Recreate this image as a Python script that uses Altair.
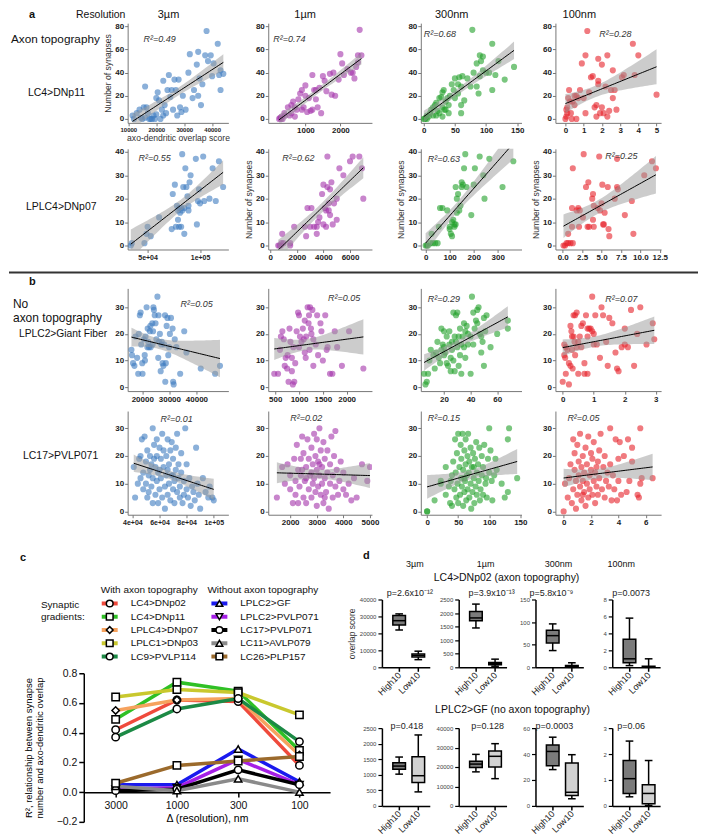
import altair as alt
import numpy as np
import pandas as pd

FONT = "Liberation Sans"
BLUE = "#3d7cbf"
PURPLE = "#a433aa"
GREEN = "#21a02a"
RED = "#e6222a"

# ---------------- panel a / b : (axo-dendritic overlap score, number of synapses)
A1_3UM = [(11500,3),(12000,0),(13000,5),(14000,8),(14500,1),(15000,0),(15500,10),(16000,28),(16500,10),(17000,5),
          (17500,0),(18000,0),(18500,0),(19000,3),(19500,0),(20000,18),(20500,23),(21000,16),(21500,0),(22000,8),
          (22500,3),(23000,12),(23500,5),(24000,25),(24500,38),(25000,19),(25500,25),(26000,8),(26500,34),(27000,25),
          (27500,3),(28000,34),(28500,10),(29000,6),(29500,20),(30500,8),(31500,40),(32000,56),(33000,18),(33500,25),
          (34500,47),(35000,20),(35500,35),(36000,12),(36500,30),(37500,55),(38000,76),(38500,50),(39500,55),(40000,37),
          (40500,48),(42000,65),(42500,38),(43000,42),(43000,25),(44000,39),(35000,58),(22500,33),(20000,4),(16000,1)]
A1_1UM = [(250,0),(280,1),(300,0),(320,2),(350,0),(400,5),(420,3),(500,10),(550,3),(600,5),(650,15),(700,2),
          (750,8),(800,17),(850,22),(900,8),(950,10),(1000,29),(1000,20),(1050,6),(1100,18),(1150,7),(1200,8),
          (1250,25),(1300,25),(1350,10),(1400,27),(1450,5),(1500,37),(1550,33),(1600,24),(1700,39),(1750,21),
          (1800,40),(1850,20),(1950,34),(2000,56),(2050,48),(2100,38),(2200,43),(2300,40),(2400,35),(2450,45),
          (2500,55),(2550,77),(2600,55),(2500,49),(2350,40),(1200,38),(900,25),(700,10),(600,12),(1300,17)]
A1_300NM = [(0,0),(2,0),(3,1),(5,0),(5,3),(8,2),(10,5),(12,8),(15,10),(15,3),(20,3),(20,14),(22,7),(25,18),(25,5),
            (28,19),(30,23),(30,10),(32,25),(33,8),(35,15),(35,8),(38,18),(40,12),(42,20),(45,30),(48,25),(50,35),
            (50,18),(55,22),(55,30),(57,36),(60,28),(60,12),(62,37),(65,16),(70,35),(75,28),(78,77),(80,40),(85,28),
            (85,48),(88,22),(90,37),(90,55),(92,50),(95,54),(95,42),(100,40),(105,40),(110,65),(110,25),(115,38),
            (120,50),(130,34),(145,45),(60,5),(40,5),(30,2),(18,12)]
A1_100NM = [(0,0),(0.05,2),(0.1,5),(0.05,8),(0.1,10),(0.15,18),(0.2,25),(0.25,15),(0.3,5),(0.35,0),(0.4,15),(0.5,20),
            (0.6,0),(0.7,18),(0.8,25),(0.9,48),(1.0,18),(1.1,55),(1.2,76),(1.1,5),(1.3,23),(1.4,36),(1.5,37),(1.6,10),
            (1.7,2),(1.7,12),(1.8,33),(1.8,30),(1.8,52),(1.9,5),(2.0,47),(2.0,10),(2.1,5),(2.2,28),(2.3,55),(2.3,2),
            (2.4,7),(2.5,25),(2.6,42),(2.6,18),(2.7,25),(2.8,8),(3.1,36),(3.2,38),(3.7,65),(3.8,38),(4.0,55),(5.0,21),
            (0.6,20),(0.5,12)]

A2_3UM = [(34000,0),(35000,1),(47000,1),(49000,5),(50000,8),(53000,4),(61000,12),(73000,7),(74000,22),(76000,26),
          (77000,8),(79000,11),(79000,15),(80000,16),(81000,14),(82000,16),(83000,15),(80000,8),(82000,8),(83000,39),
          (84000,25),(85000,5),(86000,33),(87000,25),(88000,21),(89000,15),(89000,17),(90000,27),(91000,30),(96000,37),
          (97000,9),(98000,19),(99000,24),(100000,18),(103000,38),(104000,19),(109000,20),(112000,33),(115000,19),
          (118000,36),(122000,25),(85000,16),(78000,17)]
A2_1UM = [(600,0),(700,0),(800,0),(850,1),(900,5),(1000,1),(1500,1),(1800,8),(1500,0),(2600,8),(2700,4),(2800,16),
          (3100,16),(3300,8),(3500,8),(3500,5),(3600,10),(3700,12),(3900,22),(4000,26),(4000,9),(4100,16),(4200,15),
          (4300,25),(4300,38),(4400,15),(4400,18),(4500,24),(4500,13),(4600,27),(4700,9),(4800,18),(5000,20),
          (5200,33),(5500,30),(6000,36),(6200,38),(6700,38),(6900,33),(7000,20),(3000,8),(4200,8),(5000,11)]
A2_300NM = [(0,0),(5,0),(10,0),(20,1),(25,5),(30,1),(40,1),(50,1),(55,8),(60,16),(70,16),(90,15),(100,7),(100,8),
            (105,5),(110,4),(115,11),(120,8),(120,9),(125,9),(125,25),(130,14),(135,22),(140,15),(145,17),(150,27),
            (150,25),(155,26),(160,33),(165,39),(170,25),(190,13),(200,26),(205,33),(225,38),(240,30),(245,20),
            (265,37),(320,25),(365,36),(130,20),(110,10)]
A2_100NM = [(0.1,0),(0.3,0),(0.5,1),(0.7,1),(1.0,1),(1.3,1),(0.7,5),(1.2,8),(1.2,16),(1.3,33),(1.8,15),(2.0,16),
            (2.1,8),(2.2,15),(2.6,12),(2.7,39),(3.0,25),(3.2,8),(3.3,27),(3.4,8),(3.8,20),(3.9,11),(3.9,22),(4.0,17),
            (4.0,8),(4.5,16),(4.7,38),(4.8,15),(5.0,18),(5.1,26),(5.2,9),(5.3,9),(5.4,14),(5.8,25),(5.9,7),(6.0,4),
            (6.7,20),(7.0,25),(7.1,24),(7.0,37),(8.0,13),(8.9,19),(9.1,5),(10.5,30),(11.5,36),(12.0,33)]

B1_3UM = [(16200,12),(16600,9),(17100,8),(17500,19),(18100,11),(18700,20),(19100,27),(19400,28),(19600,16),
          (20000,9),(20100,5),(20600,18),(20900,12),(21200,19),(21600,30),(21900,15),(22200,17),(22500,15),
          (22800,21),(23100,15),(23700,24),(23800,16),(24100,30),(24300,29),(24600,27),(24900,24),(25200,18),
          (25600,34),(25900,11),(26200,17),(26500,20),(26800,6),(27000,16),(27200,17),(27500,9),(27800,8),
          (28100,16),(28400,27),(28500,2),(28700,9),(29000,23),(29300,26),(29600,12),(29900,15),(30200,20),
          (30600,26),(31200,22),(31400,2),(31600,1),(32000,18),(32600,15),(34000,5),(35500,21),(36300,13),
          (41600,7),(46900,5),(48700,8),(22000,22),(24000,21),(26000,27),(21000,10),(18500,5),(16000,14),(23000,23)]
B1_1UM = [(480,5),(560,5),(600,14),(620,19),(650,21),(680,18),(700,8),(720,11),(750,7),(760,12),(780,2),(800,22),
          (820,17),(850,6),(870,1),(880,15),(900,2),(920,9),(950,21),(980,28),(1000,15),(1020,19),(1050,17),
          (1080,22),(1100,18),(1120,25),(1140,11),(1150,19),(1180,30),(1200,24),(1210,27),(1220,14),(1230,30),
          (1250,22),(1260,20),(1280,29),(1300,18),(1300,8),(1350,16),(1380,27),(1400,12),(1450,24),(1470,21),
          (1500,10),(1550,27),(1580,14),(1600,15),(1650,5),(1700,5),(1750,21),(1800,15),(1900,8),(2350,7),
          (2050,21),(1120,13),(1000,27),(850,11)]
B1_300NM = [(5,5),(6,1),(7,2),(8,5),(9,10),(10,14),(12,12),(13,7),(14,13),(15,17),(16,11),(17,9),(18,22),(18,14),
            (19,16),(20,21),(20,12),(21,13),(22,19),(22,9),(23,8),(24,16),(24,21),(25,11),(25,6),(26,14),(27,28),
            (27,10),(28,19),(28,6),(29,27),(29,17),(30,28),(30,15),(31,8),(31,19),(32,12),(32,22),(33,16),(33,5),
            (34,19),(35,24),(35,15),(36,21),(36,11),(37,23),(38,20),(38,16),(40,5),(40,19),(41,34),(42,28),(42,16),
            (43,22),(44,25),(45,24),(45,29),(46,30),(47,20),(48,19),(48,13),(49,17),(50,26),(50,8),(51,21),(52,27),
            (55,15),(60,20),(68,25),(68,22),(26,17),(20,15)]
B1_100NM = [(0.0,2),(0.05,16),(0.05,12),(0.08,11),(0.1,5),(0.1,15),(0.15,14),(0.2,9),(0.2,1),(0.25,23),(0.25,8),
            (0.28,21),(0.3,19),(0.3,14),(0.32,7),(0.35,27),(0.35,19),(0.38,17),(0.4,12),(0.4,27),(0.45,28),(0.45,15),
            (0.5,5),(0.55,19),(0.6,15),(0.6,23),(0.65,24),(0.7,5),(0.75,27),(0.8,22),(0.8,19),(0.8,5),(0.85,22),
            (0.9,22),(0.95,34),(0.95,21),(1.0,20),(1.0,16),(1.05,27),(1.1,16),(1.2,11),(1.25,30),(1.3,27),(1.4,17),
            (1.45,8),(1.5,26),(1.6,24),(1.7,13),(1.75,7),(1.8,6),(1.9,15),(2.0,22),(2.0,16),(2.1,15),(2.2,29),
            (2.3,8),(2.4,20),(2.5,30),(2.7,16),(2.9,24),(2.95,18),(0.7,9),(0.5,17)]

B2_3UM = [(41000,16),(42000,5),(44000,10),(45000,19),(46000,20),(46000,12),(47000,26),(48000,8),(48000,14),
          (49000,27),(50000,10),(50000,18),(51000,22),(51000,5),(52000,13),(52000,7),(53000,20),(53000,15),
          (54000,17),(54000,9),(55000,3),(55000,30),(55000,12),(56000,19),(56000,24),(57000,6),(57000,16),
          (58000,26),(58000,11),(59000,14),(59000,3),(60000,23),(60000,8),(61000,19),(61000,12),(62000,28),
          (62000,5),(63000,16),(63000,22),(64000,9),(64000,1),(65000,20),(65000,13),(66000,26),(66000,6),
          (67000,10),(67000,17),(68000,22),(68000,4),(69000,13),(69000,25),(70000,8),(70000,19),(71000,11),
          (71000,3),(72000,15),(72000,23),(73000,7),(73000,28),(74000,12),(74000,17),(75000,5),(75000,9),
          (76000,21),(76000,14),(77000,3),(78000,11),(78000,6),(79000,30),(80000,8),(80000,17),(81000,5),
          (82000,12),(83000,2),(84000,9),(85000,7),(86000,4),(87000,23),(88000,10),(89000,6),(90000,1),(92000,12),
          (94000,7),(96000,5),(99000,5),(100000,4),(97000,9),(60000,15),(58000,20),(66000,15),(70000,13)]
B2_1UM = [(1500,5),(1700,16),(1800,10),(1900,17),(2000,13),(2000,8),(2100,3),(2150,19),(2200,11),(2200,6),(2250,24),
          (2300,15),(2300,3),(2350,9),(2400,19),(2400,13),(2450,27),(2500,5),(2500,21),(2550,11),(2600,16),(2600,3),
          (2650,26),(2700,8),(2700,19),(2750,13),(2800,23),(2800,5),(2850,17),(2850,10),(2900,28),(2900,12),
          (2950,7),(2950,20),(3000,15),(3000,2),(3000,26),(3050,9),(3050,18),(3100,13),(3100,30),(3150,6),(3150,22),
          (3200,16),(3200,10),(3250,3),(3250,25),(3300,12),(3300,19),(3350,7),(3400,14),(3400,22),(3450,1),
          (3500,17),(3500,10),(3550,27),(3600,5),(3600,13),(3650,20),(3700,9),(3700,29),(3750,15),(3800,6),
          (3850,11),(3900,18),(4000,8),(4000,14),(4100,6),(4200,10),(4300,4),(4400,12),(4500,5),(4700,17),
          (4900,11),(5000,16),(2600,12),(2800,14),(3100,17),(3300,5),(2450,15)]
B2_300NM = [(0,0),(0,0),(12,4),(22,10),(22,11),(30,16),(30,6),(35,9),(37,3),(38,11),(40,13),(40,2),(42,18),(44,8),
            (45,26),(46,14),(47,5),(48,21),(49,10),(50,28),(50,3),(52,16),(53,6),(54,24),(55,12),(55,19),(56,9),
            (57,28),(58,2),(58,15),(60,22),(60,7),(61,11),(62,26),(62,17),(63,4),(64,13),(65,20),(65,8),(66,28),
            (67,14),(68,5),(68,18),(70,23),(70,10),(71,1),(72,16),(73,7),(74,21),(75,12),(76,3),(77,19),(78,9),
            (79,25),(80,14),(80,6),(82,17),(83,11),(84,23),(85,4),(86,8),(88,13),(88,20),(90,16),(90,6),(92,24),
            (94,10),(95,12),(96,5),(98,19),(100,30),(100,14),(102,22),(104,11),(105,4),(108,13),(110,19),(112,15),
            (120,10),(125,5),(130,26),(130,7),(132,30),(145,12),(75,16),(60,12)]
B2_100NM = [(0,0),(0.1,10),(0.3,5),(0.4,12),(0.5,17),(0.6,3),(0.7,26),(0.7,8),(0.8,21),(0.8,15),(0.9,1),(0.9,11),
            (1.0,24),(1.0,6),(1.1,18),(1.1,13),(1.2,9),(1.2,28),(1.3,4),(1.3,16),(1.4,11),(1.4,20),(1.5,7),(1.5,14),
            (1.6,23),(1.6,2),(1.7,10),(1.7,17),(1.8,5),(1.8,27),(1.9,13),(1.9,8),(2.0,21),(2.0,15),(2.1,6),(2.1,19),
            (2.2,11),(2.2,25),(2.3,3),(2.3,14),(2.4,9),(2.5,18),(2.5,6),(2.6,22),(2.6,12),(2.7,28),(2.8,8),(2.9,16),
            (3.0,5),(3.0,20),(3.1,11),(3.2,14),(3.3,9),(3.4,30),(3.4,17),(3.5,4),(3.6,13),(3.7,8),(3.8,26),(3.9,4),
            (4.0,19),(4.0,11),(4.1,25),(4.2,6),(4.4,20),(4.6,7),(4.7,26),(4.8,11),(5.0,23),(5.0,18),(5.4,6),(5.5,5),
            (5.6,30),(5.6,10),(5.7,12),(6.5,12),(1.4,6),(2.4,16)]

R2_A1 = ["R²=0.49", "R²=0.74", "R²=0.68", "R²=0.28"]
R2_A2 = ["R²=0.55", "R²=0.62", "R²=0.63", "R²=0.25"]
R2_B1 = ["R²=0.05", "R²=0.05", "R²=0.29", "R²=0.07"]
R2_B2 = ["R²=0.01", "R²=0.02", "R²=0.15", "R²=0.05"]
RESOLUTIONS = ["3µm", "1µm", "300nm", "100nm"]
SCI_A2_VALUES = [50000, 100000]
SCI_A2_LABELS = ["5e+04", "1e+05"]
SCI_B2_VALUES = [40000, 60000, 80000, 100000]
SCI_B2_LABELS = ["4e+04", "6e+04", "8e+04", "1e+05"]

# ---------------- panel c
C_NAMES = ["LC4>DNp02", "LC4>DNp11", "LPLC4>DNp07", "LPLC1>DNp03", "LC9>PVLP114",
           "LPLC2>GF", "LPLC2>PVLP071", "LC17>PVLP071", "LC11>AVLP079", "LC26>PLP157"]
C_COLORS = ["#ef4a3c", "#2fc025", "#f6a25e", "#c9c82e", "#1c8a45",
            "#1a1aee", "#a51fe6", "#000000", "#8a8a8a", "#9b6a2c"]
C_SHAPES = ["circle", "square", "diamond", "square", "circle",
            "triangle-up", "triangle-down", "circle", "triangle-up", "square"]
C_RESOLUTION = ["3000", "1000", "300", "100"]
R2_LC4_DNP02 = [0.42, 0.62, 0.61, 0.18]
R2_LC4_DNP11 = [0.49, 0.74, 0.68, 0.28]
R2_LPLC4_DNP07 = [0.55, 0.62, 0.63, 0.25]
R2_LPLC1_DNP03 = [0.64, 0.69, 0.67, 0.52]
R2_LC9_PVLP114 = [0.37, 0.56, 0.63, 0.34]
R2_LPLC2_GF = [0.05, 0.05, 0.29, 0.07]
R2_LPLC2_PVLP071 = [0.02, 0.03, 0.22, 0.05]
R2_LC17_PVLP071 = [0.01, 0.02, 0.15, 0.05]
R2_LC11_AVLP079 = [0.04, 0.01, 0.09, 0.0]
R2_LC26_PLP157 = [0.06, 0.18, 0.21, 0.24]
C_VALUES = [R2_LC4_DNP02, R2_LC4_DNP11, R2_LPLC4_DNP07, R2_LPLC1_DNP03, R2_LC9_PVLP114,
            R2_LPLC2_GF, R2_LPLC2_PVLP071, R2_LC17_PVLP071, R2_LC11_AVLP079, R2_LC26_PLP157]

# ---------------- panel d : [min, q1, median, q3, max]
D1_3UM_HIGH = [22000, 25000, 27500, 30500, 31500]
D1_3UM_LOW = [4500, 6000, 7000, 7800, 9500]
D1_1UM_HIGH = [1450, 1720, 1820, 2060, 2330]
D1_1UM_LOW = [40, 90, 130, 180, 300]
D1_300NM_HIGH = [37, 54, 70, 82, 96]
D1_300NM_LOW = [0, 0, 2, 4, 10]
D1_100NM_HIGH = [0.2, 0.55, 1.0, 3.3, 5.8]
D1_100NM_LOW = [0, 0, 0.05, 0.12, 1.0]
D2_3UM_HIGH = [1020, 1180, 1280, 1390, 1570]
D2_3UM_LOW = [450, 750, 970, 1580, 2280]
D2_1UM_HIGH = [17500, 19800, 21500, 23000, 26500]
D2_1UM_LOW = [14000, 20000, 25500, 28200, 32000]
D2_300NM_HIGH = [28, 31, 42, 47, 53]
D2_300NM_LOW = [5.5, 8, 10.5, 33, 39.5]
D2_100NM_HIGH = [0.35, 0.48, 1.05, 1.75, 2.5]
D2_100NM_LOW = [0.02, 0.08, 0.48, 0.82, 1.75]
P_ROW1 = ["p=2.6x10⁻¹²", "p=3.9x10⁻¹³", "p=5.8x10⁻⁹", "p=0.0073"]
P_ROW2 = ["p=0.418", "p=0.128", "p=0.0003", "p=0.06"]
GROUPS = ["High10", "Low10"]


# ======================================================== helpers
def spacer(w, h):
    return alt.Chart(pd.DataFrame({"t": [""]})).mark_text(baseline="top", fontSize=1).encode(
        x=alt.value(0), y=alt.value(0), text="t:N").properties(width=w, height=h)


def label(t, x, y, size=10.5, weight="normal", align="left", baseline="middle",
          style="normal", color="#111111"):
    return alt.Chart(pd.DataFrame({"t": [t]})).mark_text(
        align=align, baseline=baseline, fontSize=size, fontWeight=weight,
        fontStyle=style, color=color).encode(x=alt.value(x), y=alt.value(y), text="t:N")


def text_panel(w, h, labels):
    return alt.layer(*labels).properties(width=w, height=h)


def sci_expr(vals, labs):
    expr = "''"
    for v, l in reversed(list(zip(vals, labs))):
        expr = f"datum.value == {v} ? '{l}' : ({expr})"
    return expr


def reg_band(pts):
    x = np.array([p[0] for p in pts], dtype=float)
    y = np.array([p[1] for p in pts], dtype=float)
    n = len(x)
    slope, icept = np.polyfit(x, y, 1)
    resid = y - (icept + slope * x)
    s = np.sqrt((resid ** 2).sum() / (n - 2))
    sxx = ((x - x.mean()) ** 2).sum()
    xs = np.linspace(x.min(), x.max(), 40)
    fit = icept + slope * xs
    se = s * np.sqrt(1.0 / n + (xs - x.mean()) ** 2 / sxx)
    return pd.DataFrame({"x": xs, "fit": fit, "lo": fit - 1.99 * se, "hi": fit + 1.99 * se})


def scatter(pts, color, w, h, xdom, ydom, xticks, yticks, r2, r2xy,
            xfmt="d", xlab_expr="", xlabsize=8, ytitle="", xtitle=""):
    df = pd.DataFrame(pts, columns=["x", "y"])
    band = reg_band(pts)
    xscale = alt.Scale(domain=xdom, nice=False, zero=False)
    yscale = alt.Scale(domain=ydom, nice=False, zero=False)
    common = dict(grid=False, domainColor="#777777", domainWidth=1, tickColor="#777777", tickSize=3,
                  labelFontWeight="bold", labelColor="#222222", labelPadding=1, labelFlush=False,
                  labelOverlap=False, titleFontWeight="normal", titleColor="#333333", titleFontSize=8.6)
    xkw = dict(common, values=xticks, labelFontSize=xlabsize, titlePadding=1)
    if xlab_expr:
        xkw["labelExpr"] = xlab_expr
    else:
        xkw["format"] = xfmt
    ykw = dict(common, values=yticks, labelFontSize=8, format="d", titlePadding=2)

    def X(f):
        return alt.X(f"{f}:Q", scale=xscale, axis=alt.Axis(**xkw), title=xtitle)

    def Y(f):
        return alt.Y(f"{f}:Q", scale=yscale, axis=alt.Axis(**ykw), title=ytitle)

    pts_l = alt.Chart(df).mark_circle(size=38, opacity=0.6, color=color, clip=True).encode(
        x=X("x"), y=Y("y"))
    band_l = alt.Chart(band).mark_area(color="#9a9a9a", opacity=0.5, clip=True).encode(
        x=X("x"), y=Y("lo"), y2="hi:Q")
    line_l = alt.Chart(band).mark_line(color="black", strokeWidth=1, clip=True).encode(
        x=X("x"), y=Y("fit"))
    txt = label(r2, r2xy[0], r2xy[1], size=9, style="italic", color="#333333")
    return alt.layer(pts_l, band_l, line_l, txt).properties(width=w, height=h)


def boxpanel(high, low, w, h, ydom, yticks, ptxt, px, py, ytitle=""):
    df = pd.DataFrame({"g": [0, 1], "grp": GROUPS,
                       "lo": [high[0], low[0]], "q1": [high[1], low[1]], "med": [high[2], low[2]],
                       "q3": [high[3], low[3]], "hi": [high[4], low[4]]})
    df["l"] = df["g"] - 0.33
    df["r"] = df["g"] + 0.33
    df["cl"] = df["g"] - 0.2
    df["cr"] = df["g"] + 0.2
    xscale = alt.Scale(domain=[-0.9, 1.6], nice=False, zero=False)
    yscale = alt.Scale(domain=ydom, nice=False, zero=False)
    xax = alt.Axis(values=[0, 1], labelExpr="['High10','Low10'][datum.value]", labelAngle=315,
                   labelAlign="right", labelBaseline="middle", labelFontSize=9, labelColor="#222222",
                   domainColor="black", domainWidth=1.5, tickColor="black", tickWidth=1.5, tickSize=4,
                   grid=False, labelFlush=False, labelOverlap=False, labelPadding=2)
    yax = alt.Axis(values=yticks, format="d", labelFontSize=6, labelColor="#444444", domainColor="black",
                   domainWidth=1.5, tickColor="black", tickWidth=1.2, tickSize=4, grid=False,
                   labelFlush=False, labelOverlap=False, labelPadding=2,
                   titleFontSize=8.5, titleFontWeight="normal", titleColor="#333333", titlePadding=3)

    def X(f):
        return alt.X(f"{f}:Q", scale=xscale, axis=xax, title="")

    def Y(f):
        return alt.Y(f"{f}:Q", scale=yscale, axis=yax, title=ytitle)

    base = alt.Chart(df)
    whisk = base.mark_rule(color="black", strokeWidth=1.5).encode(x=X("g"), y=Y("lo"), y2="hi:Q")
    box = base.mark_rect(stroke="black", strokeWidth=1.5).encode(
        x=X("l"), x2="r:Q", y=Y("q1"), y2="q3:Q",
        fill=alt.Fill("grp:N", scale=alt.Scale(domain=GROUPS, range=["#7b7b7b", "#d2d2d2"]), legend=None))
    med = base.mark_rule(color="black", strokeWidth=1.5).encode(x=X("l"), x2="r:Q", y=Y("med"))
    cap1 = base.mark_rule(color="black", strokeWidth=1.5).encode(x=X("cl"), x2="cr:Q", y=Y("lo"))
    cap2 = base.mark_rule(color="black", strokeWidth=1.5).encode(x=X("cl"), x2="cr:Q", y=Y("hi"))
    ptx = label(ptxt, px, py, size=9, align="center", baseline="top", color="#222222")
    return alt.layer(whisk, box, med, cap1, cap2, ptx).properties(width=w, height=h)


# ======================================================== panel a / b rows
WID = [101, 104, 101, 106]
GAPS = [40, 49, 34]


def row(lab, charts):
    items = [lab]
    for k, c in enumerate(charts):
        items.append(c)
        if k < 3:
            items.append(spacer(GAPS[k], 10))
    return alt.hconcat(*items, spacing=0, bounds="flush")


NS = "Number of synapses"
a1 = [
    scatter(A1_3UM, BLUE, WID[0], 100, [9750, 45800], [-3.4, 82.8], [10000, 20000, 30000, 40000],
            [0, 20, 40, 60, 80], R2_A1[0], (16, 16), xlabsize=6, ytitle=NS,
            xtitle="axo-dendritic overlap score"),
    scatter(A1_1UM, PURPLE, WID[1], 100, [-60, 2900], [-3.4, 82.8], [1000, 2000],
            [0, 20, 40, 60, 80], R2_A1[1], (5, 16)),
    scatter(A1_300NM, GREEN, WID[2], 100, [-4.8, 157], [-3.4, 82.8], [0, 50, 100, 150],
            [0, 20, 40, 60, 80], R2_A1[2], (3, 11)),
    scatter(A1_100NM, RED, WID[3], 100, [-0.55, 5.25], [-3.4, 82.8], [0, 1, 2, 3, 4, 5],
            [0, 20, 40, 60, 80], R2_A1[3], (44, 11)),
]
a2 = [
    scatter(A2_3UM, BLUE, WID[0], 101, [31000, 127000], [-1.7, 41.3], SCI_A2_VALUES,
            [0, 10, 20, 30, 40], R2_A2[0], (11, 9), xlab_expr=sci_expr(SCI_A2_VALUES, SCI_A2_LABELS),
            xlabsize=7),
    scatter(A2_1UM, PURPLE, WID[1], 101, [-150, 7650], [-1.7, 41.3], [0, 2000, 4000, 6000],
            [0, 10, 20, 30, 40], R2_A2[1], (14, 9), ytitle=NS),
    scatter(A2_300NM, GREEN, WID[2], 101, [-20, 399], [-1.7, 41.3], [0, 100, 200, 300],
            [0, 10, 20, 30, 40], R2_A2[2], (7, 10), ytitle=NS),
    scatter(A2_100NM, RED, WID[3], 101, [-0.94, 12.67], [-1.7, 41.3], [0, 2.5, 5, 7.5, 10, 12.5],
            [0, 10, 20, 30, 40], R2_A2[3], (50, 7), xfmt=".1f", ytitle=NS),
]
b1 = [
    scatter(B1_3UM, BLUE, WID[0], 103, [14600, 51800], [-1.5, 37.1], [20000, 30000, 40000],
            [0, 10, 20, 30], R2_B1[0], (53, 16)),
    scatter(B1_1UM, PURPLE, WID[1], 103, [354, 2530], [-1.5, 37.1], [500, 1000, 1500, 2000],
            [0, 10, 20, 30], R2_B1[1], (60, 10)),
    scatter(B1_300NM, GREEN, WID[2], 103, [2.5, 78.3], [-1.5, 37.1], [20, 40, 60],
            [0, 10, 20, 30], R2_B1[2], (7, 11)),
    scatter(B1_100NM, RED, WID[3], 103, [-0.235, 3.17], [-1.5, 37.1], [0, 1, 2, 3],
            [0, 10, 20, 30], R2_B1[3], (50, 11)),
]
b2 = [
    scatter(B2_3UM, BLUE, WID[0], 104, [36500, 110800], [-1.2, 36.2], SCI_B2_VALUES,
            [0, 10, 20, 30], R2_B2[0], (33, 8), xlab_expr=sci_expr(SCI_B2_VALUES, SCI_B2_LABELS),
            xlabsize=7),
    scatter(B2_1UM, PURPLE, WID[1], 104, [1175, 5075], [-1.2, 36.2], [2000, 3000, 4000, 5000],
            [0, 10, 20, 30], R2_B2[1], (22, 7)),
    scatter(B2_300NM, GREEN, WID[2], 104, [-10.2, 152], [-1.2, 36.2], [0, 50, 100, 150],
            [0, 10, 20, 30], R2_B2[2], (7, 7)),
    scatter(B2_100NM, RED, WID[3], 104, [-0.6, 7.12], [-1.2, 36.2], [0, 2, 4, 6],
            [0, 10, 20, 30], R2_B2[3], (12, 7)),
]

header_a = text_panel(691, 12, [
    label("a", 20, 5, 11, "bold"),
    label("Resolution", 92, 5, 10.5, align="center"),
    label(RESOLUTIONS[0], 160, 5, 11, align="center"),
    label(RESOLUTIONS[1], 297, 5, 11, align="center"),
    label(RESOLUTIONS[2], 444, 5, 11, align="center"),
    label(RESOLUTIONS[3], 572, 5, 11, align="center"),
])
row_a1 = row(text_panel(119, 125, [label("Axon topography", 2, 16, 11.8),
                                   label("LC4>DNp11", 19, 70, 10.5)]), a1)
row_a2 = row(text_panel(119, 115, [label("LPLC4>DNp07", 17, 58, 10.5)]), a2)
sep_rule = alt.Chart(pd.DataFrame({"t": [""]})).mark_rule(color="#333333", strokeWidth=2).encode(
    x=alt.value(0), x2=alt.value(691), y=alt.value(9))
sep = alt.layer(sep_rule, label("b", 20, 19, 11, "bold")).properties(width=691, height=25)
row_b1 = row(text_panel(119, 123, [label("No", 4, 16, 12), label("axon topography", 4, 30, 12),
                                   label("LPLC2>Giant Fiber", 10, 46, 10.3)]), b1)
row_b2 = row(text_panel(119, 119, [label("LC17>PVLP071", 14, 45, 10.5)]), b2)

# ======================================================== panel c
cscale = alt.Scale(domain=C_NAMES, range=C_COLORS)
sscale = alt.Scale(domain=C_NAMES, range=C_SHAPES)
cdf = pd.DataFrame([{"s": n, "i": i, "r2": v} for n, vals in zip(C_NAMES, C_VALUES)
                    for i, v in enumerate(vals)])
cx = alt.X("i:Q", scale=alt.Scale(domain=[-0.52, 3.5], nice=False, zero=False), title="Δ (resolution), nm",
           axis=alt.Axis(values=[0, 1, 2, 3], labelExpr="['3000','1000','300','100'][datum.value]",
                         offset=-29.8, domainColor="black", domainWidth=1.5, tickColor="black",
                         tickWidth=1.5, tickSize=5, labelFontSize=10.5, labelPadding=3, labelColor="#111111",
                         titleFontSize=10.5, titleFontWeight="normal", titlePadding=3, grid=False,
                         labelFlush=False))
cy = alt.Y("r2:Q", scale=alt.Scale(domain=[-0.2, 0.8], nice=False, zero=False),
           title=["R², relationship between synapse", "number and axo-dendritic overlap"],
           axis=alt.Axis(values=[-0.2, 0, 0.2, 0.4, 0.6, 0.8], format=".1f", domainColor="black",
                         domainWidth=1.5, tickColor="black", tickWidth=1.5, tickSize=5, labelFontSize=10.5,
                         labelColor="#111111", labelPadding=2, titleFontSize=9.5, titleFontWeight="normal",
                         titlePadding=12, titleLineHeight=11, grid=False, labelFlush=False))
c_lines = alt.Chart(cdf).mark_line(strokeWidth=3.5).encode(
    x=cx, y=cy, color=alt.Color("s:N", scale=cscale, legend=None))
c_pts = alt.Chart(cdf).mark_point(filled=True, fill="white", stroke="black", strokeWidth=1.5,
                                  size=55, opacity=1).encode(
    x=cx, y=cy, shape=alt.Shape("s:N", scale=sscale, legend=None))
c_chart = alt.layer(c_lines, c_pts).properties(width=247, height=149)

leg = pd.DataFrame({"s": C_NAMES, "k": list(range(len(C_NAMES)))})
leg["col"] = leg["k"] // 5
leg["rw"] = leg["k"] % 5
leg["lx"] = 26 + 110 * leg["col"]
leg["x1"] = leg["lx"] - 8
leg["x2"] = leg["lx"] + 8
leg["tx"] = leg["lx"] + 21
leg["ly"] = 74 + 13.3 * leg["rw"]
lxs = alt.Scale(domain=[0, 247], nice=False, zero=False)
lys = alt.Scale(domain=[0, 144], nice=False, zero=False, reverse=True)
leg_rule = alt.Chart(leg).mark_rule(strokeWidth=4).encode(
    x=alt.X("x1:Q", scale=lxs, axis=None), x2="x2:Q", y=alt.Y("ly:Q", scale=lys, axis=None),
    color=alt.Color("s:N", scale=cscale, legend=None))
leg_pt = alt.Chart(leg).mark_point(filled=True, fill="white", stroke="black", strokeWidth=1.5,
                                   size=45, opacity=1).encode(
    x=alt.X("lx:Q", scale=lxs, axis=None), y=alt.Y("ly:Q", scale=lys, axis=None),
    shape=alt.Shape("s:N", scale=sscale, legend=None))
leg_txt = alt.Chart(leg).mark_text(align="left", baseline="middle", fontSize=10, color="#111111").encode(
    x=alt.X("tx:Q", scale=lxs, axis=None), y=alt.Y("ly:Q", scale=lys, axis=None), text="s:N")
c_header = alt.layer(
    leg_rule, leg_pt, leg_txt,
    label("c", -64, 28, 11, "bold"),
    label("Synaptic", -43, 76, 10), label("gradients:", -43, 88, 10),
    label("With axon topography", 17, 60, 10), label("Without axon topography", 124, 60, 10),
).properties(width=247, height=144)
C_block = alt.vconcat(c_header, c_chart, spacing=0, bounds="flush")

# ======================================================== panel d
BW = 48
d_hdr = text_panel(330, 60, [
    label("d", 33, 26, 11, "bold"),
    label(RESOLUTIONS[0], 85, 34, 9, align="center"),
    label(RESOLUTIONS[1], 156, 34, 9, align="center"),
    label(RESOLUTIONS[2], 229, 34, 9, align="center"),
    label(RESOLUTIONS[3], 292, 34, 9, align="center"),
    label("LC4>DNp02 (axon topography)", 177, 48, 10.5, align="center"),
])
d_row1 = alt.hconcat(
    spacer(23, 101),
    boxpanel(D1_3UM_HIGH, D1_3UM_LOW, BW, 68, [0, 40000], [0, 10000, 20000, 30000, 40000],
             P_ROW1[0], 28, -10, ytitle="overlap score"),
    boxpanel(D1_1UM_HIGH, D1_1UM_LOW, BW, 68, [0, 2500], [0, 500, 1000, 1500, 2000, 2500], P_ROW1[1], 33, -10),
    boxpanel(D1_300NM_HIGH, D1_300NM_LOW, BW, 68, [0, 150], [0, 50, 100, 150], P_ROW1[2], 16, -10),
    boxpanel(D1_100NM_HIGH, D1_100NM_LOW, BW, 68, [0, 8], [0, 2, 4, 6, 8], P_ROW1[3], 19, -10),
    spacing=29, bounds="flush")
d_mid = text_panel(330, 22, [label("LPLC2>GF (no axon topography)", 183, 10, 10.5, align="center")])
d_row2 = alt.hconcat(
    spacer(23, 78),
    boxpanel(D2_3UM_HIGH, D2_3UM_LOW, BW, 78, [0, 2500], [0, 500, 1000, 1500, 2000, 2500], P_ROW2[0], 25, -6),
    boxpanel(D2_1UM_HIGH, D2_1UM_LOW, BW, 78, [0, 40000], [0, 10000, 20000, 30000, 40000], P_ROW2[1], 29, -6),
    boxpanel(D2_300NM_HIGH, D2_300NM_LOW, BW, 78, [0, 60], [0, 20, 40, 60], P_ROW2[2], 19, -6),
    boxpanel(D2_100NM_HIGH, D2_100NM_LOW, BW, 78, [0, 3], [0, 1, 2, 3], P_ROW2[3], 19, -6),
    spacing=29, bounds="flush")
D_block = alt.vconcat(d_hdr, d_row1, d_mid, d_row2, spacing=0)

bottom = alt.hconcat(spacer(11, 10), C_block, D_block, spacing=0)

chart = alt.vconcat(header_a, row_a1, row_a2, sep, row_b1, row_b2, bottom, spacing=0).properties(
    padding=0
).configure(font=FONT).configure_view(strokeWidth=0)

chart.save("out.html", embed_options={"renderer": "svg", "actions": False})
